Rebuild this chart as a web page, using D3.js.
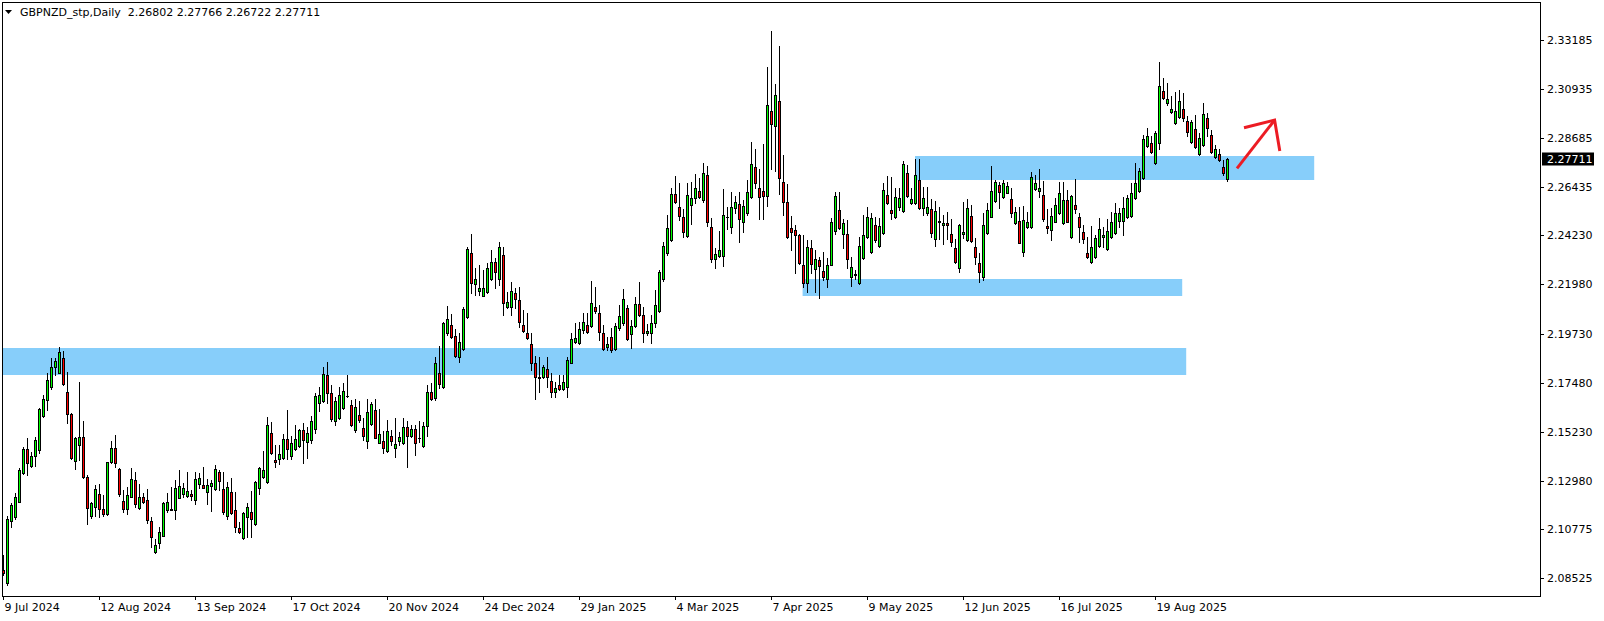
<!DOCTYPE html>
<html>
<head>
<meta charset="utf-8">
<script src="https://cdn.jsdelivr.net/npm/d3@7"></script>
<style>
  html, body { margin: 0; padding: 0; background: #ffffff; overflow: hidden; }
  svg { display: block; }
</style>
</head>
<body>
<svg id="chart" width="1604" height="621"></svg>
<script>
// ---------------- DATA ----------------
const symbolTitle = "GBPNZD_stp,Daily";

const openPrices = [
2.0891,2.0830,2.1114,2.1132,2.1201,2.1334,2.1444,2.1366,2.1412,2.1439,
2.1595,2.1668,2.1728,2.1819,2.1792,2.1861,2.1705,2.1604,2.1389,2.1462,
2.1499,2.1315,2.1137,2.1178,2.1237,2.1169,2.1146,2.1384,2.1448,2.1352,
2.1205,2.1169,2.1224,2.1302,2.1173,2.1224,2.1210,2.1114,2.0971,2.1013,
2.1045,2.1164,2.1164,2.1164,2.1219,2.1237,2.1228,2.1237,2.1210,2.1283,
2.1278,2.1246,2.1274,2.1260,2.1338,2.1260,2.1137,2.1246,2.1164,2.1082,
2.1036,2.1132,2.1155,2.1100,2.1265,2.1315,2.1292,2.1517,2.1393,2.1398,
2.1402,2.1490,2.1412,2.1444,2.1457,2.1531,2.1476,2.1485,2.1535,2.1654,
2.1664,2.1783,2.1700,2.1572,2.1586,2.1632,2.1685,2.1645,2.1531,2.1599,
2.1540,2.1480,2.1558,2.1622,2.1471,2.1480,2.1435,2.1503,2.1448,2.1480,
2.1471,2.1545,2.1503,2.1535,2.1494,2.1457,2.1549,2.1705,2.1677,2.1792,
2.1728,2.1975,2.2012,2.1961,2.1865,2.1902,2.2049,2.2342,2.2200,2.2168,
2.2145,2.2163,2.2223,2.2301,2.2223,2.2333,2.2094,2.2094,2.2159,2.2127,
2.2012,2.1975,2.1925,2.1838,2.1769,2.1774,2.1810,2.1755,2.1705,2.1737,
2.1719,2.1728,2.1838,2.1934,2.1930,2.1989,2.2012,2.2007,2.2094,2.2067,
2.1975,2.1911,2.1957,2.1902,2.1998,2.2021,2.2090,2.1971,2.2007,2.2108,
2.2058,2.1975,2.1975,2.2021,2.2076,2.2223,2.2342,2.2401,2.2612,2.2553,
2.2507,2.2420,2.2562,2.2594,2.2626,2.2585,2.2699,2.2461,2.2314,2.2328,
2.2328,2.2505,2.2461,2.2548,2.2566,2.2484,2.2525,2.2599,2.2736,2.2640,
2.2626,2.2603,2.2993,2.2924,2.3039,2.2667,2.2576,2.2457,2.2447,2.2424,
2.2287,2.2205,2.2365,2.2269,2.2310,2.2259,2.2223,2.2287,2.2443,2.2539,
2.2429,2.2429,2.2232,2.2243,2.2205,2.2319,2.2415,2.2347,2.2470,2.2374,
2.2434,2.2608,2.2539,2.2507,2.2553,2.2534,2.2709,2.2571,2.2571,2.2677,
2.2548,2.2525,2.2544,2.2406,2.2486,2.2470,2.2479,2.2429,2.2365,2.2273,
2.2429,2.2401,2.2512,2.2369,2.2296,2.2232,2.2434,2.2507,2.2580,2.2654,
2.2599,2.2617,2.2589,2.2479,2.2489,2.2347,2.2461,2.2461,2.2635,2.2626,
2.2608,2.2466,2.2447,2.2484,2.2525,2.2479,2.2585,2.2415,2.2562,2.2507,
2.2438,2.2342,2.2301,2.2324,2.2374,2.2415,2.2360,2.2415,2.2434,2.2489,
2.2489,2.2507,2.2512,2.2594,2.2626,2.2686,2.2832,2.2846,2.2754,2.2846,
2.3084,2.3029,2.2988,2.2938,2.2965,2.3002,2.2947,2.2851,2.2910,2.2796,
2.2837,2.2961,2.2883,2.2782,2.2796,2.2736,2.26802
];

const highPrices = [
2.0958,2.1137,2.1196,2.1242,2.1357,2.1453,2.1494,2.1430,2.1499,2.1632,
2.1691,2.1792,2.1861,2.1861,2.1911,2.1893,2.1797,2.1609,2.1499,2.1751,
2.1572,2.1325,2.1201,2.1278,2.1283,2.1233,2.1386,2.1480,2.1508,2.1357,
2.1256,2.1269,2.1357,2.1338,2.1283,2.1242,2.1260,2.1132,2.1031,2.1086,
2.1201,2.1242,2.1269,2.1302,2.1347,2.1288,2.1338,2.1256,2.1338,2.1334,
2.1361,2.1306,2.1302,2.1370,2.1347,2.1338,2.1292,2.1311,2.1246,2.1109,
2.1153,2.1196,2.1251,2.1297,2.1361,2.1435,2.1590,2.1567,2.1462,2.1462,
2.1512,2.1622,2.1503,2.1554,2.1535,2.1563,2.1545,2.1595,2.1700,2.1728,
2.1819,2.1842,2.1737,2.1682,2.1728,2.1746,2.1783,2.1668,2.1673,2.1664,
2.1586,2.1673,2.1659,2.1673,2.1627,2.1526,2.1577,2.1531,2.1586,2.1522,
2.1586,2.1572,2.1554,2.1554,2.1572,2.1567,2.1737,2.1746,2.1865,2.1916,
2.2026,2.2099,2.2062,2.1994,2.1975,2.2094,2.2369,2.2429,2.2273,2.2287,
2.2264,2.2296,2.2356,2.2319,2.2392,2.2369,2.2163,2.2209,2.2182,2.2186,
2.2081,2.2067,2.1975,2.1870,2.1865,2.1829,2.1865,2.1792,2.1751,2.1783,
2.1783,2.1865,2.1975,2.2021,2.2026,2.2067,2.2067,2.2214,2.2186,2.2104,
2.2012,2.1957,2.1998,2.2021,2.2104,2.2177,2.2104,2.2035,2.2140,2.2209,
2.2094,2.2017,2.2058,2.2172,2.2264,2.2392,2.2516,2.2640,2.2695,2.2663,
2.2544,2.2663,2.2667,2.2704,2.2686,2.2754,2.2741,2.2502,2.2365,2.2443,
2.2635,2.2553,2.2621,2.2603,2.2621,2.2585,2.2677,2.2851,2.2818,2.2727,
2.2842,2.3194,2.3359,2.3116,2.3291,2.2791,2.2658,2.2512,2.2470,2.2427,
2.2424,2.2401,2.2401,2.2356,2.2324,2.2347,2.2319,2.2502,2.2621,2.2621,
2.2498,2.2493,2.2324,2.2264,2.2415,2.2516,2.2553,2.2525,2.2507,2.2502,
2.2663,2.2695,2.2690,2.2640,2.2640,2.2764,2.2745,2.2640,2.2773,2.2773,
2.2644,2.2644,2.2589,2.2580,2.2553,2.2516,2.2530,2.2498,2.2406,2.2475,
2.2576,2.2589,2.2562,2.2411,2.2342,2.2525,2.2571,2.2741,2.2677,2.2667,
2.2677,2.2668,2.2640,2.2553,2.2553,2.2557,2.2530,2.2713,2.2699,2.2727,
2.2672,2.2544,2.2548,2.2594,2.2667,2.2667,2.2631,2.2608,2.2681,2.2525,
2.2470,2.2415,2.2466,2.2424,2.2502,2.2461,2.2498,2.2530,2.2571,2.2548,
2.2599,2.2608,2.2663,2.2754,2.2732,2.2883,2.2915,2.2878,2.2901,2.3217,
2.3144,2.3121,2.3062,2.3080,2.3089,2.3075,2.2970,2.2951,2.2974,2.2892,
2.3029,2.2984,2.2906,2.2837,2.2818,2.2768,2.27766
];

const lowPrices = [
2.0866,2.0821,2.1086,2.1123,2.1199,2.1329,2.1325,2.1361,2.1366,2.1425,
2.1590,2.1622,2.1718,2.1783,2.1791,2.1737,2.1563,2.1400,2.1352,2.1393,
2.1313,2.1100,2.1128,2.1137,2.1132,2.1137,2.1141,2.1380,2.1361,2.1228,
2.1155,2.1146,2.1222,2.1178,2.1169,2.1196,2.1105,2.0994,2.0967,2.0990,
2.1043,2.1155,2.1162,2.1123,2.1217,2.1224,2.1224,2.1210,2.1191,2.1265,
2.1263,2.1191,2.1160,2.1256,2.1256,2.1146,2.1123,2.1146,2.1063,2.1059,
2.1031,2.1040,2.1040,2.1095,2.1237,2.1311,2.1290,2.1421,2.1361,2.1375,
2.1398,2.1398,2.1398,2.1439,2.1455,2.1380,2.1402,2.1471,2.1517,2.1618,
2.1659,2.1654,2.1572,2.1554,2.1581,2.1627,2.1680,2.1549,2.1522,2.1567,
2.1485,2.1448,2.1554,2.1492,2.1469,2.1425,2.1430,2.1462,2.1407,2.1462,
2.1467,2.1361,2.1499,2.1416,2.1476,2.1453,2.1503,2.1668,2.1668,2.1723,
2.1723,2.1966,2.1952,2.1865,2.1842,2.1897,2.2046,2.2159,2.2150,2.2150,
2.2143,2.2159,2.2218,2.2182,2.2195,2.2058,2.2090,2.2058,2.2090,2.2003,
2.1980,2.1948,2.1806,2.1673,2.1705,2.1769,2.1728,2.1682,2.1682,2.1714,
2.1714,2.1682,2.1836,2.1930,2.1925,2.1975,2.1975,2.2003,2.2067,2.1943,
2.1897,2.1897,2.1888,2.1897,2.1989,2.2012,2.1943,2.1907,2.2003,2.2053,
2.1934,2.1966,2.1930,2.2003,2.2072,2.2214,2.2333,2.2397,2.2573,2.2493,
2.2415,2.2415,2.2475,2.2571,2.2594,2.2576,2.2466,2.2301,2.2273,2.2324,
2.2282,2.2452,2.2434,2.2525,2.2392,2.2438,2.2516,2.2594,2.2640,2.2498,
2.2498,2.2557,2.2727,2.2718,2.2612,2.2516,2.2411,2.2356,2.2250,2.2294,
2.2186,2.2163,2.2250,2.2163,2.2136,2.2218,2.2186,2.2285,2.2429,2.2454,
2.2365,2.2273,2.2191,2.2223,2.2202,2.2314,2.2413,2.2342,2.2392,2.2369,
2.2431,2.2569,2.2498,2.2502,2.2539,2.2530,2.2599,2.2569,2.2566,2.2544,
2.2516,2.2516,2.2415,2.2374,2.2406,2.2383,2.2406,2.2374,2.2296,2.2255,
2.2411,2.2397,2.2392,2.2292,2.2209,2.2218,2.2429,2.2505,2.2576,2.2548,
2.2594,2.2615,2.2507,2.2477,2.2386,2.2328,2.2457,2.2459,2.2631,2.2599,
2.2489,2.2434,2.2401,2.2482,2.2523,2.2477,2.2482,2.2413,2.2525,2.2392,
2.2388,2.2319,2.2296,2.2319,2.2369,2.2369,2.2356,2.2411,2.2431,2.2461,
2.2424,2.2502,2.2507,2.2589,2.2621,2.2681,2.2828,2.2800,2.2750,2.2818,
2.3048,2.3020,2.2984,2.2933,2.2963,2.2947,2.2878,2.2848,2.2823,2.2791,
2.2832,2.2878,2.2800,2.2777,2.2764,2.2699,2.26722
];

const closePrices = [
2.0875,2.1123,2.1187,2.1224,2.1347,2.1444,2.1380,2.1412,2.1485,2.1627,
2.1673,2.1760,2.1819,2.1847,2.1888,2.1742,2.1604,2.1402,2.1494,2.1499,
2.1315,2.1173,2.1196,2.1260,2.1169,2.1146,2.1384,2.1448,2.1380,2.1237,
2.1169,2.1233,2.1306,2.1191,2.1224,2.1201,2.1118,2.1040,2.1004,2.1063,
2.1196,2.1201,2.1171,2.1265,2.1274,2.1265,2.1251,2.1228,2.1306,2.1311,
2.1265,2.1278,2.1288,2.1352,2.1297,2.1155,2.1269,2.1150,2.1086,2.1063,
2.1150,2.1178,2.1123,2.1292,2.1357,2.1347,2.1554,2.1425,2.1384,2.1421,
2.1490,2.1444,2.1471,2.1490,2.1531,2.1485,2.1517,2.1572,2.1687,2.1691,
2.1788,2.1700,2.1581,2.1664,2.1691,2.1710,2.1687,2.1554,2.1636,2.1577,
2.1503,2.1613,2.1650,2.1494,2.1512,2.1448,2.1526,2.1480,2.1467,2.1499,
2.1545,2.1503,2.1535,2.1471,2.1496,2.1549,2.1705,2.1673,2.1838,2.1742,
2.2021,2.2039,2.1957,2.1870,2.1934,2.2085,2.2360,2.2205,2.2223,2.2182,
2.2182,2.2273,2.2301,2.2255,2.2369,2.2113,2.2117,2.2168,2.2131,2.2026,
2.1985,2.1952,2.1838,2.1774,2.1774,2.1819,2.1774,2.1705,2.1723,2.1719,
2.1751,2.1852,2.1948,2.1952,2.1994,2.2026,2.1980,2.2113,2.2076,2.1980,
2.1902,2.1925,2.1897,2.2007,2.2053,2.2131,2.1948,2.2007,2.2108,2.2058,
2.1975,2.1985,2.2021,2.2104,2.2255,2.2374,2.2457,2.2612,2.2576,2.2512,
2.2438,2.2608,2.2594,2.2640,2.2599,2.2709,2.2484,2.2314,2.2337,2.2356,
2.2516,2.2507,2.2553,2.2576,2.2498,2.2557,2.2621,2.2750,2.2663,2.2599,
2.2603,2.3020,2.2933,2.3066,2.2686,2.2576,2.2415,2.2438,2.2424,2.2296,
2.2205,2.2369,2.2292,2.2314,2.2282,2.2232,2.2287,2.2484,2.2603,2.2457,
2.2479,2.2314,2.2278,2.2246,2.2374,2.2424,2.2507,2.2502,2.2401,2.2466,
2.2631,2.2571,2.2525,2.2599,2.2594,2.2750,2.2603,2.2589,2.2699,2.2548,
2.2594,2.2553,2.2434,2.2534,2.2489,2.2479,2.2470,2.2392,2.2301,2.2470,
2.2438,2.2548,2.2397,2.2324,2.2255,2.2470,2.2539,2.2626,2.2667,2.2621,
2.2663,2.2649,2.2525,2.2530,2.2388,2.2493,2.2484,2.2690,2.2663,2.2640,
2.2498,2.2457,2.2512,2.2562,2.2617,2.2585,2.2484,2.2603,2.2544,2.2461,
2.2406,2.2324,2.2369,2.2411,2.2452,2.2424,2.2443,2.2484,2.2525,2.2525,
2.2548,2.2594,2.2617,2.2663,2.2718,2.2864,2.2878,2.2805,2.2892,2.3107,
2.3052,2.3048,2.3002,2.2993,2.3039,2.2961,2.2897,2.2942,2.2828,2.2869,
2.2979,2.2915,2.2805,2.2818,2.2768,2.2709,2.27711
];

// price axis tick labels (right side)
const priceTicks = [2.33185, 2.30935, 2.28685, 2.26435, 2.24230, 2.21980,
                    2.19730, 2.17480, 2.15230, 2.12980, 2.10775, 2.08525];

// time axis: bar index of each label and its text
const dateTickBars = [0, 24, 48, 72, 96, 120, 144, 168, 192, 216, 240, 264, 288];
const dateLabels = ["9 Jul 2024", "12 Aug 2024", "13 Sep 2024", "17 Oct 2024",
  "20 Nov 2024", "24 Dec 2024", "29 Jan 2025", "4 Mar 2025", "7 Apr 2025",
  "9 May 2025", "12 Jun 2025", "16 Jul 2025", "19 Aug 2025"];

// support / resistance zones (bar range, price range)
const zoneStartBar = [-1, 199.9, 228.0];
const zoneEndBar   = [295.8, 294.8, 327.8];
const zoneLowPrice = [2.17828, 2.21449, 2.26765];
const zoneHighPrice= [2.19079, 2.22228, 2.27865];

// hand-drawn red arrow (bar, price)
const arrowShaftBars   = [308.5, 317.9];
const arrowShaftPrices = [2.27301, 2.29514];
const arrowHeadBars    = [310.25, 317.9, 319.2];
const arrowHeadPrices  = [2.29162, 2.29514, 2.28094];

// ---------------- LAYOUT ----------------
const W = 1604, H = 621;
const plotLeft = 2, plotTop = 2, plotRight = 1540, plotBottom = 596;
const FONT = "'DejaVu Sans', Verdana, sans-serif";

const svg = d3.select("#chart");
svg.append("rect").attr("width", W).attr("height", H).attr("fill", "#ffffff");

const x = d3.scaleLinear().domain([0, 306]).range([3, 1227]).interpolate(d3.interpolateRound);
const y = d3.scaleLinear().domain([2.08525, 2.33185]).range([578, 40]).interpolate(d3.interpolateRound);

const bars = openPrices.map((o, i) => ({
  i, o, h: highPrices[i], l: lowPrices[i], c: closePrices[i]
}));

svg.append("clipPath").attr("id", "plotClip")
  .append("rect").attr("x", plotLeft + 1).attr("y", plotTop + 1)
  .attr("width", plotRight - plotLeft - 1).attr("height", plotBottom - plotTop - 1);

const plot = svg.append("g").attr("clip-path", "url(#plotClip)");

// zones
const zoneX = d3.scaleLinear().domain([0, 306]).range([3, 1227]);
plot.append("g").selectAll("rect")
  .data(zoneStartBar.map((s, k) => ({ s, e: zoneEndBar[k], lo: zoneLowPrice[k], hi: zoneHighPrice[k] })))
  .join("rect")
  .attr("x", d => zoneX(d.s))
  .attr("y", d => y(d.hi))
  .attr("width", d => zoneX(d.e) - zoneX(d.s))
  .attr("height", d => y(d.lo) - y(d.hi))
  .attr("fill", "#87cefa");

// candles
const cg = plot.append("g");
const GREEN = "#00ff00", RED = "#ff0000";
bars.forEach(b => {
  const cx = x(b.i);
  const yH = y(b.h), yL = y(b.l);
  const top = y(Math.max(b.o, b.c)), bot = y(Math.min(b.o, b.c));
  cg.append("rect").attr("x", cx).attr("y", yH).attr("width", 1)
    .attr("height", Math.max(1, yL - yH + 1)).attr("fill", "#000");
  if (bot - top < 1) {
    cg.append("rect").attr("x", cx - 1).attr("y", top).attr("width", 3).attr("height", 1).attr("fill", "#000");
  } else {
    cg.append("rect")
      .attr("x", cx - 0.5).attr("y", top + 0.5)
      .attr("width", 2).attr("height", bot - top)
      .attr("fill", b.c >= b.o ? GREEN : RED)
      .attr("stroke", "#000").attr("stroke-width", 1);
  }
});

// arrow
const ax = d3.scaleLinear().domain([0, 306]).range([3, 1227]);
const ay = d3.scaleLinear().domain([2.08525, 2.33185]).range([578, 40]);
const line = d3.line().x(d => ax(d[0])).y(d => ay(d[1]));
const arrowG = plot.append("g").attr("fill", "none").attr("stroke", "#ec1c24")
  .attr("stroke-width", 3).attr("stroke-linejoin", "miter").attr("stroke-linecap", "butt");
arrowG.append("path").attr("d", line(arrowShaftBars.map((b, k) => [b, arrowShaftPrices[k]])));
arrowG.append("path").attr("d", line(arrowHeadBars.map((b, k) => [b, arrowHeadPrices[k]])));

// border
svg.append("rect")
  .attr("x", plotLeft + 0.5).attr("y", plotTop + 0.5)
  .attr("width", plotRight - plotLeft).attr("height", plotBottom - plotTop)
  .attr("fill", "none").attr("stroke", "#000").attr("stroke-width", 1);

// right price axis
const yAxis = svg.append("g")
  .attr("transform", `translate(${plotRight},0)`)
  .call(d3.axisRight(y).tickValues(priceTicks).tickFormat(d3.format(".5f")).tickSize(4).tickPadding(3));
yAxis.select(".domain").remove();
yAxis.attr("font-family", FONT).attr("font-size", 11);
yAxis.selectAll("text").attr("fill", "#000");
yAxis.selectAll("line").attr("stroke", "#000");

// current price marker
const last = bars[bars.length - 1];
const lastY = y(last.c);
svg.append("rect").attr("x", plotRight + 2).attr("y", lastY - 6.5)
  .attr("width", 52).attr("height", 13).attr("fill", "#000");
svg.append("text").attr("x", plotRight + 7).attr("y", lastY).attr("dy", "0.35em")
  .attr("font-family", FONT).attr("font-size", 11).attr("fill", "#fff")
  .text(d3.format(".5f")(last.c));

// bottom time axis
const xAxis = svg.append("g")
  .attr("transform", `translate(0,${plotBottom})`)
  .call(d3.axisBottom(x).tickValues(dateTickBars)
        .tickFormat((d, k) => dateLabels[k]).tickSize(4).tickPadding(3));
xAxis.select(".domain").remove();
xAxis.attr("font-family", FONT).attr("font-size", 11);
xAxis.selectAll("text").attr("text-anchor", "start").attr("x", 1).attr("fill", "#000");
xAxis.selectAll("line").attr("stroke", "#000");

// title
svg.append("path").attr("d", "M5,10 L12,10 L8.5,14 Z").attr("fill", "#000");
svg.append("text").attr("x", 20).attr("y", 16)
  .attr("font-family", FONT).attr("font-size", 11).attr("fill", "#000")
  .style("white-space", "pre")
  .text(`${symbolTitle}  ${[last.o, last.h, last.l, last.c].map(d3.format(".5f")).join(" ")}`);
</script>
</body>
</html>
